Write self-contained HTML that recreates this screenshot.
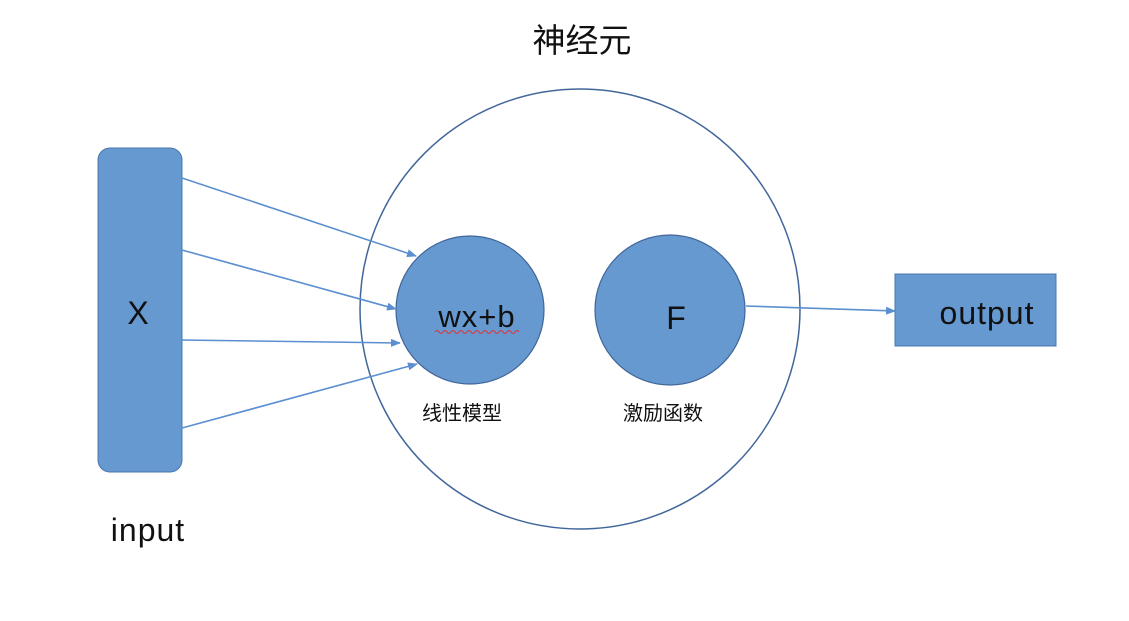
<!DOCTYPE html>
<html><head><meta charset="utf-8"><style>
html,body{margin:0;padding:0;background:#fff;}
svg{display:block;}
text{font-family:"Liberation Sans","Noto Sans CJK SC",sans-serif;fill:#111;}
</style></head><body>
<svg width="1129" height="621" viewBox="0 0 1129 621" xmlns="http://www.w3.org/2000/svg">
<defs>
<marker id="a" viewBox="0 0 10 10" refX="9" refY="5" markerWidth="10" markerHeight="10" markerUnits="userSpaceOnUse" orient="auto">
<path d="M0,1 L10,5 L0,9 z" fill="#5b8fd0"/>
</marker>
</defs>
<rect width="1129" height="621" fill="#fff"/>
<text x="582" y="52" font-size="33" text-anchor="middle">神经元</text>
<circle cx="580" cy="309" r="220" fill="none" stroke="#41669a" stroke-width="1.5"/>
<rect x="98" y="148" width="84" height="324" rx="12" fill="#6699cf" stroke="#4a78ad" stroke-width="1"/>
<text x="138" y="324" font-size="32" text-anchor="middle">X</text>
<text x="148" y="541" font-size="32" text-anchor="middle" letter-spacing="1">input</text>
<circle cx="470" cy="310" r="74" fill="#6699cf" stroke="#41669a" stroke-width="1.2"/>
<text x="477" y="327" font-size="31" text-anchor="middle" letter-spacing="1">wx+b</text>
<path d="M435,332 q2,-3 4,0 t4,0 t4,0 t4,0 t4,0 t4,0 t4,0 t4,0 t4,0 t4,0 t4,0 t4,0 t4,0 t4,0 t4,0 t4,0 t4,0 t4,0 t4,0 t4,0 t4,0" fill="none" stroke="#e03030" stroke-width="1"/>
<text x="462" y="420" font-size="20" text-anchor="middle">线性模型</text>
<circle cx="670" cy="310" r="75" fill="#6699cf" stroke="#41669a" stroke-width="1.2"/>
<text x="676" y="329" font-size="32" text-anchor="middle">F</text>
<text x="663" y="420" font-size="20" text-anchor="middle">激励函数</text>
<rect x="895" y="274" width="161" height="72" fill="#6699cf" stroke="#4a78ad" stroke-width="1"/>
<text x="987" y="324" font-size="32" text-anchor="middle" letter-spacing="1">output</text>
<g stroke="#5b8fd0" stroke-width="1.6" fill="none" marker-end="url(#a)">
<line x1="182" y1="178" x2="416" y2="256"/>
<line x1="182" y1="250" x2="396" y2="309"/>
<line x1="182" y1="340" x2="400" y2="343"/>
<line x1="182" y1="428" x2="417" y2="364"/>
<line x1="746" y1="306" x2="895" y2="311"/>
</g>
</svg>
</body></html>
